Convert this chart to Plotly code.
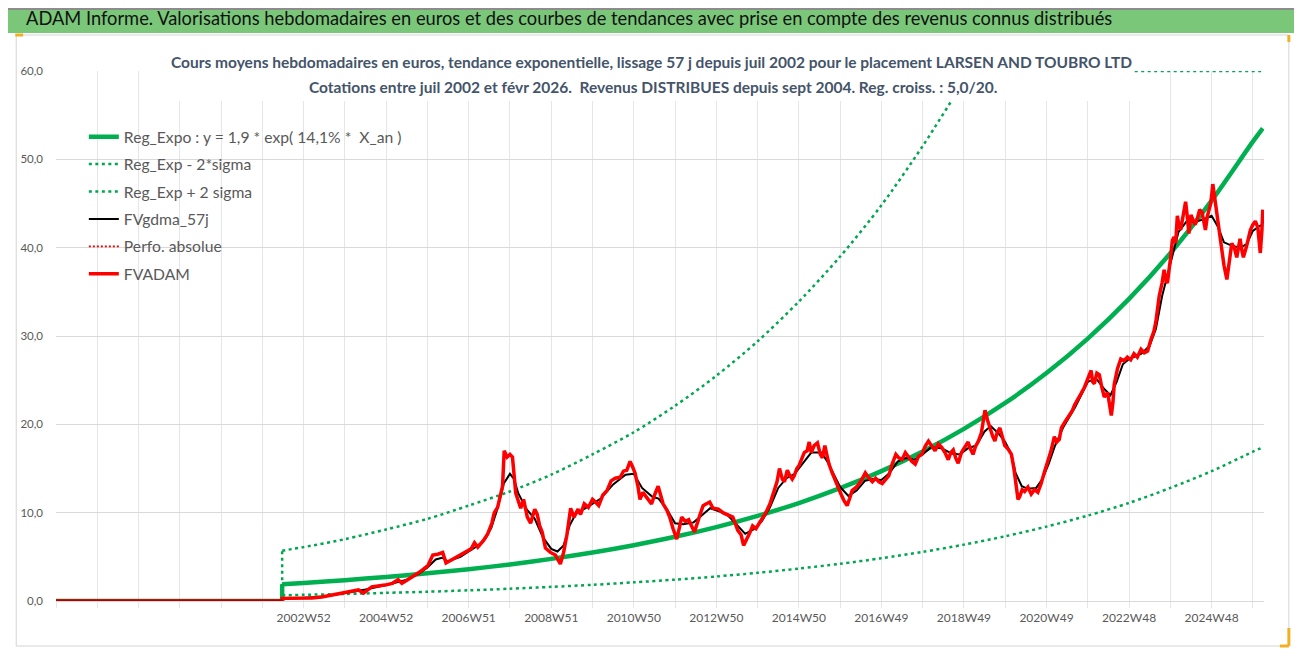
import plotly.graph_objects as go

# ---- data (x in axis years, 1 grid = 52 weeks) ----
start_x = 2002.48
axis_end = 2026.27

tick_pos = [2003, 2005, 2007, 2009, 2011, 2013, 2015, 2017, 2019, 2021, 2023, 2025]
tick_labels = ['2002W52', '2004W52', '2006W51', '2008W51', '2010W50', '2012W50',
               '2014W50', '2016W49', '2018W49', '2020W49', '2022W48', '2024W48']

trend_x = [2002.48, 2003, 2004, 2005, 2006, 2007, 2008, 2009, 2010, 2011, 2012, 2013,
           2014, 2015, 2016, 2017, 2018, 2019, 2020, 2021, 2022, 2023, 2024, 2025,
           2026, 2026.24]
reg_expo = [1.90, 2.05, 2.36, 2.72, 3.13, 3.60, 4.14, 4.77, 5.49, 6.32, 7.27, 8.37,
            9.64, 11.09, 12.77, 14.70, 16.92, 19.48, 22.42, 25.81, 29.71, 34.20, 39.37,
            45.32, 52.0, 53.5]
reg_low = [0.65, 0.70, 0.80, 0.92, 1.05, 1.21, 1.39, 1.60, 1.83, 2.11, 2.42, 2.78,
           3.19, 3.67, 4.21, 4.84, 5.56, 6.38, 7.33, 8.42, 9.67, 11.1, 12.8, 14.7,
           16.9, 17.4]

# upper band: rises off the chart, then stays on the 60 ceiling
high_x = [2002.48, 2003, 2004, 2005, 2006, 2007, 2008, 2009, 2010, 2011, 2012, 2013,
          2014, 2015, 2016, 2017, 2018, 2019, 2019.2]
reg_high = [5.7, 6.1, 7.0, 8.1, 9.3, 10.8, 12.4, 14.3, 16.6, 19.1, 22.1, 25.5,
            29.4, 33.9, 39.0, 44.8, 51.5, 58.8, 60.0]
ceiling_x = [2019.2, 2026.24]
ceiling_y = [60.0, 60.0]

fvadam_x = [2002.48, 2002.8, 2003.2, 2003.44, 2003.7, 2003.92, 2004.1, 2004.33, 2004.45,
            2004.65, 2004.97, 2005.15, 2005.29, 2005.38, 2005.55, 2005.69, 2005.85,
            2006.01, 2006.13, 2006.25, 2006.37, 2006.45, 2006.53, 2006.7, 2006.82,
            2006.95, 2007.06, 2007.14, 2007.22, 2007.35, 2007.46, 2007.56, 2007.62,
            2007.7, 2007.82, 2007.86, 2007.93, 2008.0, 2008.06, 2008.14, 2008.26,
            2008.33, 2008.42, 2008.5, 2008.6, 2008.66, 2008.72, 2008.78, 2008.86,
            2008.98, 2009.1, 2009.22, 2009.3, 2009.38, 2009.47, 2009.55, 2009.65,
            2009.71, 2009.8, 2009.9, 2010.0, 2010.07, 2010.15, 2010.25, 2010.35,
            2010.45, 2010.55, 2010.67, 2010.75, 2010.83, 2010.91, 2010.97, 2011.03,
            2011.1, 2011.15, 2011.22, 2011.31, 2011.43, 2011.52, 2011.59, 2011.65,
            2011.71, 2011.8, 2011.87, 2011.95, 2012.04, 2012.1, 2012.16, 2012.25,
            2012.33, 2012.4, 2012.47, 2012.6, 2012.68, 2012.76, 2012.84, 2012.92,
            2013.05, 2013.16, 2013.28, 2013.4, 2013.52, 2013.6, 2013.66, 2013.72,
            2013.8, 2013.88, 2013.96, 2014.04, 2014.12, 2014.2, 2014.3, 2014.4,
            2014.47, 2014.53, 2014.6, 2014.65, 2014.72, 2014.77, 2014.84, 2014.89,
            2014.95, 2015.0, 2015.07, 2015.13, 2015.2, 2015.25, 2015.3, 2015.37,
            2015.45, 2015.52, 2015.57, 2015.63, 2015.68, 2015.73, 2015.8, 2015.85,
            2015.92, 2015.97, 2016.03, 2016.09, 2016.17, 2016.23, 2016.29, 2016.37,
            2016.45, 2016.53, 2016.61, 2016.7, 2016.78, 2016.86, 2016.94, 2017.02,
            2017.1, 2017.18, 2017.26, 2017.35, 2017.42, 2017.5, 2017.58, 2017.66,
            2017.74, 2017.82, 2017.9, 2017.98, 2018.06, 2018.14, 2018.22, 2018.3,
            2018.38, 2018.46, 2018.54, 2018.62, 2018.68, 2018.74, 2018.8, 2018.86,
            2018.94, 2019.02, 2019.1, 2019.16, 2019.22, 2019.28, 2019.35, 2019.42,
            2019.51, 2019.57, 2019.63, 2019.7, 2019.75, 2019.8, 2019.87, 2019.93,
            2019.99, 2020.07, 2020.15, 2020.21, 2020.27, 2020.31, 2020.35, 2020.41,
            2020.47, 2020.55, 2020.63, 2020.71, 2020.79, 2020.87, 2020.95, 2021.03,
            2021.11, 2021.19, 2021.25, 2021.31, 2021.36, 2021.45, 2021.55, 2021.62,
            2021.68, 2021.76, 2021.84, 2021.92, 2022.0, 2022.08, 2022.12, 2022.16,
            2022.22, 2022.28, 2022.34, 2022.4, 2022.48, 2022.53, 2022.57, 2022.61,
            2022.64, 2022.72, 2022.8, 2022.88, 2022.96, 2023.04, 2023.12, 2023.2,
            2023.29, 2023.37, 2023.45, 2023.53, 2023.6, 2023.65, 2023.73, 2023.8,
            2023.85, 2023.9, 2023.93, 2024.0, 2024.05, 2024.09, 2024.13, 2024.17,
            2024.21, 2024.25, 2024.31, 2024.37, 2024.41, 2024.45, 2024.5, 2024.53,
            2024.6, 2024.65, 2024.71, 2024.77, 2024.82, 2024.85, 2024.9, 2024.93,
            2024.98, 2025.03, 2025.08, 2025.13, 2025.19, 2025.25, 2025.3, 2025.37,
            2025.43, 2025.49, 2025.55, 2025.61, 2025.65, 2025.69, 2025.73, 2025.77,
            2025.85, 2025.94, 2026.0, 2026.06, 2026.12, 2026.18, 2026.22, 2026.24]
fvadam_y = [0.3, 0.3, 0.35, 0.45, 0.7, 0.9, 1.0, 1.25, 0.9,
            1.6, 1.8, 2.0, 2.4, 2.0, 2.5, 2.9, 3.4,
            4.0, 5.2, 5.3, 5.5, 4.3, 4.5, 4.9, 5.3,
            5.6, 5.9, 6.6, 6.1, 6.8, 7.6, 8.8, 10.0,
            10.6, 13.0, 17.0, 16.3, 16.6, 16.3, 12.2, 10.5,
            11.5, 9.5, 8.8, 10.4, 9.8, 8.5, 7.8, 6.0,
            5.5, 5.2, 4.2, 5.5, 7.5, 10.5, 9.5, 10.4,
            9.8, 11.0, 10.6, 11.5, 11.2, 10.8, 12.0, 12.5,
            13.6, 13.9, 14.0, 14.7, 14.8, 15.8, 15.2, 14.5,
            13.0, 11.5, 12.3, 11.8, 11.0, 12.2, 13.0, 12.0,
            11.0, 10.3, 9.5, 8.2, 7.0, 8.2, 9.5, 9.0,
            9.2, 8.5, 7.8, 9.7, 10.8, 11.0, 11.2, 10.5,
            10.4, 10.0, 9.8, 9.5, 8.0, 7.5, 6.3, 6.8,
            7.6, 8.5, 8.2, 8.8, 9.4, 10.0, 11.0, 12.5,
            13.5, 15.0, 13.8, 13.5, 14.8, 14.3, 13.8, 14.2,
            15.0, 15.3, 16.0, 16.8, 17.0, 18.0, 16.8, 17.6,
            17.9, 16.6, 16.2, 17.6, 16.5, 15.5, 14.6, 14.0,
            13.2, 12.5, 12.0, 11.4, 10.8, 11.6, 12.5, 12.8,
            13.2, 13.8, 14.5, 13.9, 13.5, 13.9, 13.5, 13.3,
            13.8, 14.2, 15.5, 16.6, 16.2, 16.0, 16.8, 16.3,
            15.8, 15.5, 16.4, 16.6, 17.5, 18.1, 17.6, 17.0,
            17.8, 17.4, 16.8, 16.0, 16.8, 17.1, 16.2, 15.6,
            16.8, 17.5, 18.0, 17.2, 16.6, 17.5, 18.1, 19.0,
            21.6, 20.5, 19.5, 18.6, 18.1, 19.0, 19.6, 18.5,
            17.6, 17.2, 16.6, 15.0, 13.0, 11.5, 11.8, 12.6,
            12.4, 12.9, 12.1, 12.6, 12.3, 13.3, 14.6, 15.8,
            17.0, 18.6, 18.0, 18.3, 19.6, 20.3, 21.0, 21.5,
            22.2, 22.8, 23.5, 24.2, 25.3, 26.1, 24.8, 24.6,
            25.8, 25.6, 24.2, 23.1, 23.6, 22.0, 21.0, 22.5,
            24.5, 26.3, 27.4, 27.2, 27.6, 27.3, 28.0, 27.6,
            28.5, 28.1, 28.3, 29.6, 30.5, 31.6, 34.5, 36.0,
            37.5, 36.2, 36.0, 38.6, 40.8, 41.2, 40.5, 43.6,
            42.5, 42.0, 43.8, 45.2, 43.6, 41.6, 43.7, 43.4,
            42.6, 43.2, 44.3, 44.0, 42.8, 42.0, 43.6, 44.1,
            45.0, 47.2, 45.5, 43.5, 41.5, 39.5, 38.0, 36.4,
            38.5, 40.5, 40.0, 38.9, 40.0, 41.0, 39.8, 38.9,
            40.2, 42.0, 42.6, 43.0, 42.3, 39.4, 42.0, 44.3]

gdma_x = [2002.48, 2003.0, 2003.5, 2004.0, 2004.5, 2005.0, 2005.5, 2005.8, 2006.0, 2006.2,
          2006.35, 2006.5, 2006.8, 2007.0, 2007.2, 2007.4, 2007.55, 2007.7, 2007.85,
          2008.0, 2008.1, 2008.2, 2008.4, 2008.6, 2008.8, 2009.0, 2009.15, 2009.3,
          2009.45, 2009.6, 2009.9, 2010.2, 2010.5, 2010.8, 2011.0, 2011.2, 2011.45,
          2011.6, 2011.8, 2012.0, 2012.2, 2012.45, 2012.7, 2012.85, 2013.1, 2013.3,
          2013.5, 2013.7, 2013.9, 2014.1, 2014.3, 2014.5, 2014.7, 2014.9, 2015.1,
          2015.3, 2015.55, 2015.7, 2015.85, 2016.0, 2016.2, 2016.4, 2016.6, 2016.8,
          2017.0, 2017.2, 2017.4, 2017.6, 2017.8, 2018.0, 2018.2, 2018.45, 2018.7,
          2018.9, 2019.1, 2019.3, 2019.5, 2019.65, 2019.85, 2020.0, 2020.15, 2020.25,
          2020.4, 2020.55, 2020.75, 2020.9, 2021.05, 2021.2, 2021.4, 2021.7, 2022.0,
          2022.2, 2022.4, 2022.55, 2022.7, 2022.85, 2023.0, 2023.3, 2023.5, 2023.65,
          2023.8, 2024.0, 2024.2, 2024.4, 2024.6, 2024.8, 2025.0, 2025.15, 2025.3,
          2025.5, 2025.7, 2025.85, 2026.0, 2026.15, 2026.24]
gdma_y = [0.2, 0.35, 0.5, 0.9, 1.3, 1.8, 2.4, 3.1, 3.8, 4.7,
          4.9, 4.5, 5.0, 5.6, 6.2, 7.0, 8.3, 10.5, 13.3,
          14.4, 13.8, 12.2, 10.4, 9.3, 7.2, 5.9, 5.6, 6.3,
          8.6, 9.9, 10.7, 11.6, 13.2, 14.3, 14.4, 12.8, 11.8,
          11.6, 10.4, 8.8, 8.7, 8.9, 9.9, 10.5, 10.1, 9.6,
          8.6, 7.6, 8.1, 9.0, 10.6, 12.8, 13.9, 14.4, 15.6,
          16.8, 16.8, 15.7, 14.3, 12.9, 11.9, 12.5, 13.6, 13.8,
          13.7, 14.5, 15.8, 16.2, 16.0, 16.6, 17.4, 17.3, 16.7,
          16.6, 17.3, 17.6, 19.2, 19.8, 18.9, 18.0, 16.6, 14.5,
          13.0, 12.7, 12.8, 13.8, 15.5, 17.5, 19.6, 22.0, 24.8,
          25.2, 24.0, 23.3, 24.8, 26.8, 27.4, 28.0, 28.9, 30.8,
          34.5, 38.2, 41.8, 43.0, 42.9, 43.2, 43.6, 42.4, 40.6,
          40.2, 40.0, 40.4, 41.9, 42.4, 42.6]

# ---- pixel geometry of the reference (page coordinates) ----
L, R, T, B = 49, 1264, 71, 601
OFF = 8                      # the html body margin shifts the figure by 8 px
FIG_W, FIG_H = 1302 - OFF, 653 - OFF


def px(x):
    return (x - L) / (R - L)


def py(y):
    return (B - y) / (B - T)


def lead_zero(xs, ys):
    # series are at 0 from the first category until the quotations start
    return [1997.0, start_x] + list(xs), [0, 0] + list(ys)


font_name = 'Lato'
green = '#00b050'
dot_green = '#00a650'
dots = '3px,3.5px'

fig = go.Figure()


def add_trend(xs, ys, name, group, line):
    # flat zero part + jump at the start, then the smooth curve
    fig.add_trace(go.Scatter(x=[1997.0, start_x, start_x], y=[0, 0, ys[0]], mode='lines',
                             legendgroup=group, showlegend=False, line=line, hoverinfo='skip'))
    fig.add_trace(go.Scatter(x=xs, y=ys, mode='lines', name=name, legendgroup=group,
                             line=dict(line, shape='spline', smoothing=0.8)))


add_trend(trend_x, reg_expo, 'Reg_Expo : y = 1,9 * exp( 14,1% *\u00a0 X_an )', 'a',
          dict(color=green, width=4.5))
add_trend(trend_x, reg_low, 'Reg_Exp - 2*sigma', 'b', dict(color=dot_green, width=2.5, dash=dots))
add_trend(high_x, reg_high, 'Reg_Exp + 2 sigma', 'c', dict(color=dot_green, width=2.5, dash=dots))
fig.add_trace(go.Scatter(x=ceiling_x, y=ceiling_y, mode='lines', legendgroup='c', showlegend=False,
                         line=dict(color=dot_green, width=2.5, dash=dots), cliponaxis=False))

x0, y0 = lead_zero(gdma_x, gdma_y)
fig.add_trace(go.Scatter(x=x0, y=y0, mode='lines', name='FVgdma_57j',
                         legendgroup='d', line=dict(color='black', width=2)))
fig.add_trace(go.Scatter(x=[1997.0, start_x], y=[0, 0], mode='lines', name='Perfo. absolue',
                         legendgroup='e', line=dict(color='#e00000', width=1.8, dash='2px,2px')))
x0, y0 = lead_zero(fvadam_x, fvadam_y)
fig.add_trace(go.Scatter(x=x0, y=y0, mode='lines', name='FVADAM',
                         legendgroup='f', line=dict(color='#ff0000', width=3.5)))
# dark flat part before the quotations
fig.add_trace(go.Scatter(x=[1997.0, start_x], y=[0, 0], mode='lines', showlegend=False,
                         line=dict(color='#b00000', width=3)))

grid_h = '#d9d9d9'
grid_v = '#e4e6ec'

fig.update_layout(
    width=FIG_W, height=FIG_H, autosize=False,
    margin=dict(l=L - OFF, r=FIG_W - (R - OFF), t=T - OFF, b=FIG_H - (B - OFF)),
    paper_bgcolor='white', plot_bgcolor='white',
    separators=', ',
    font=dict(family=font_name, color='#595959'),
    showlegend=True,
    legend=dict(x=px(77), y=py(120), xanchor='left', yanchor='top',
                bgcolor='rgba(0,0,0,0)', font=dict(size=15.7, color='#595959'),
                tracegroupgap=4),
    xaxis=dict(range=[1997.0, axis_end], tickvals=tick_pos, ticktext=tick_labels,
               showgrid=True, gridcolor=grid_v, gridwidth=1, zeroline=False,
               ticks='outside', ticklen=6, tickcolor=grid_v, showline=False,
               tickfont=dict(size=12, color='#595959'),
               minor=dict(dtick=1, tick0=1997, showgrid=True, gridcolor=grid_v,
                          ticks='outside', ticklen=6, tickcolor=grid_v)),
    yaxis=dict(range=[0, 60], dtick=10, tickformat='.1f', showgrid=True,
               gridcolor=grid_h, zeroline=True, zerolinecolor=grid_h, zerolinewidth=1,
               showline=False, ticks='', ticklabelstandoff=12,
               tickfont=dict(size=11.5, color='#595959')),
)

shapes = [
    # green banner
    dict(type='rect', xref='paper', yref='paper', x0=px(0), x1=px(1302), y0=py(33), y1=py(0),
         fillcolor='#7ac77a', line=dict(width=0), layer='above'),
    dict(type='line', xref='paper', yref='paper', x0=px(0), x1=px(1302), y0=py(9), y1=py(9),
         line=dict(color='#8c8c8c', width=2), layer='above'),
    # white box behind the chart title
    dict(type='rect', xref='paper', yref='paper', x0=px(165), x1=px(1132), y0=py(101), y1=py(46),
         fillcolor='white', line=dict(width=0), layer='above'),
    # chart frame
    dict(type='rect', xref='paper', yref='paper', x0=px(9), x1=px(1289), y0=py(646), y1=py(35),
         line=dict(color='#d4d4d4', width=1), layer='below'),
    # selection corner marks
    dict(type='line', xref='paper', yref='paper', x0=px(1289), x1=px(1289), y0=py(628), y1=py(646),
         line=dict(color='#f0b020', width=3), layer='above'),
    dict(type='line', xref='paper', yref='paper', x0=px(1280), x1=px(1289), y0=py(646), y1=py(646),
         line=dict(color='#f0b020', width=3), layer='above'),
    dict(type='line', xref='paper', yref='paper', x0=px(8), x1=px(16), y0=py(35), y1=py(35),
         line=dict(color='#f0b020', width=3), layer='above'),
    dict(type='line', xref='paper', yref='paper', x0=px(1289), x1=px(1289), y0=py(35), y1=py(42),
         line=dict(color='#f0b020', width=3), layer='above'),
]
fig.update_layout(shapes=shapes)

annotations = [
    dict(text='ADAM Informe. Valorisations hebdomadaires en euros et des courbes de tendances '
              'avec prise en compte des revenus connus distribués',
         xref='paper', yref='paper', x=px(17), y=py(18), xanchor='left', yanchor='middle',
         showarrow=False, font=dict(family=font_name, size=18.3, color='#111111')),
    dict(text='Cours moyens hebdomadaires en euros, tendance exponentielle, lissage 57 j depuis '
              'juil 2002 pour le placement LARSEN AND TOUBRO LTD',
         xref='paper', yref='paper', x=px(648), y=py(62), xanchor='center', yanchor='middle',
         showarrow=False, font=dict(family=font_name, size=15.5, color='#44546a', weight='bold')),
    dict(text='Cotations entre juil 2002 et févr 2026.  Revenus DISTRIBUES depuis sept 2004. '
              'Reg. croiss. : 5,0/20.',
         xref='paper', yref='paper', x=px(650), y=py(87), xanchor='center', yanchor='middle',
         showarrow=False, font=dict(family=font_name, size=15.5, color='#44546a', weight='bold')),
]
fig.update_layout(annotations=annotations)

fig.write_html('out.html')
